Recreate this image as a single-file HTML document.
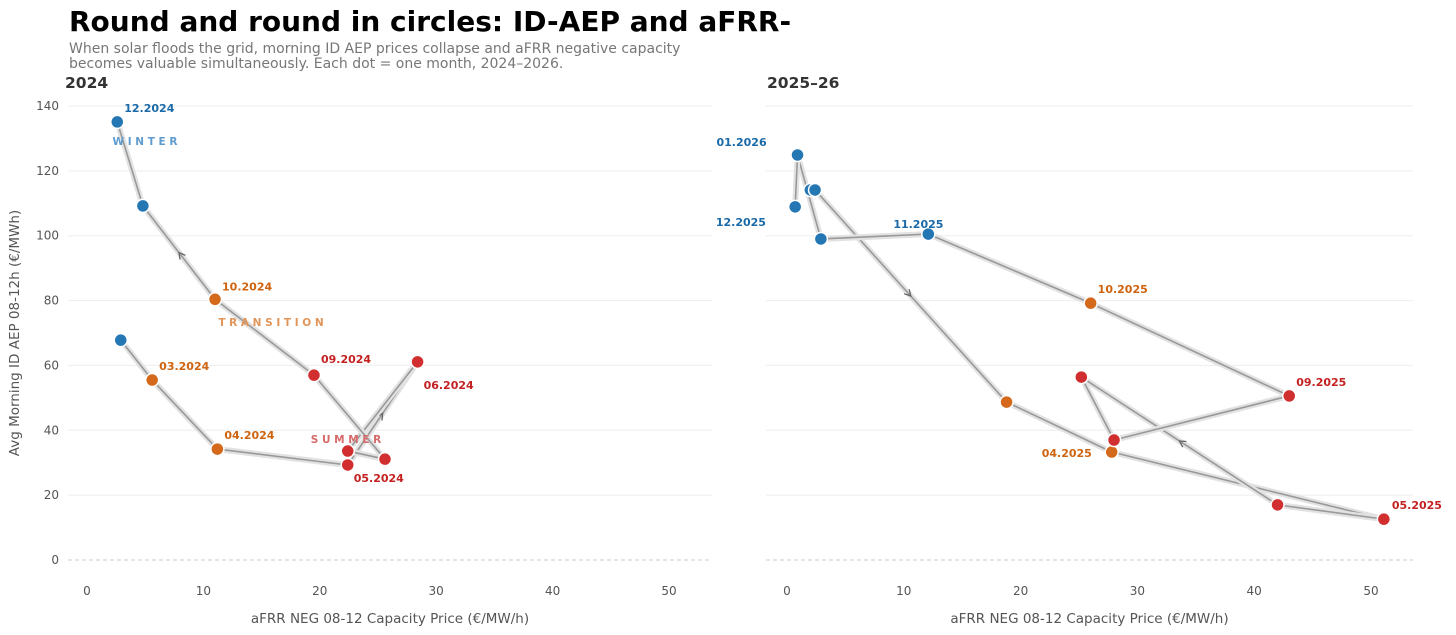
<!DOCTYPE html>
<html><head><meta charset="utf-8">
<style>
body{margin:0;background:#fff;font-family:"DejaVu Sans","Liberation Sans",sans-serif;}
#wrap{position:relative;width:1456px;height:635px;overflow:hidden;}
</style></head>
<body>
<div id="wrap">
<svg id="svg" width="1456" height="635" xmlns="http://www.w3.org/2000/svg" font-family="DejaVu Sans, Liberation Sans, sans-serif">
<text x="69" y="31" font-size="28" font-weight="bold" fill="#000">Round and round in circles: ID-AEP and aFRR-</text>
<text x="69" y="53" font-size="14" fill="#777">When solar floods the grid, morning ID AEP prices collapse and aFRR negative capacity</text>
<text x="69" y="68" font-size="14" fill="#777">becomes valuable simultaneously. Each dot = one month, 2024–2026.</text>
</svg>
</div>
<script>
const ticksX=[0,10,20,30,40,50];
const ticksY=[0,20,40,60,80,100,120,140];
const labels2024=["01.2024","03.2024","04.2024","05.2024","06.2024","07.2024","08.2024","09.2024","10.2024","11.2024","12.2024"];
const x2024=[2.9,5.6,11.2,22.4,28.4,22.4,25.6,19.5,11.0,4.8,2.6];
const y2024=[67.8,55.5,34.2,29.3,61.1,33.6,31.1,57.0,80.4,109.2,135.1];
const season2024=["w","t","t","s","s","s","s","s","t","w","w"];
const shown2024=[false,true,true,true,true,false,false,true,true,false,true];
const labels2025=["01.2025","02.2025","03.2025","04.2025","05.2025","06.2025","07.2025","08.2025","09.2025","10.2025","11.2025","12.2025","01.2026","02.2026"];
const x2025=[2.0,2.4,18.8,27.8,51.1,42.0,25.2,28.0,43.0,26.0,12.1,2.9,0.9,0.7];
const y2025=[114.1,114.1,48.7,33.3,12.6,17.0,56.4,37.0,50.6,79.2,100.5,99.0,124.9,108.9];
const season2025=["w","w","t","t","s","s","s","s","s","t","w","w","w","w"];
const shown2025=[false,false,false,true,true,false,false,false,true,true,true,true,true,false];

const NS="http://www.w3.org/2000/svg";
const svg=document.getElementById('svg');
const COL={w:"#2477b3",t:"#d4691c",s:"#d12f2f"};
const LCOL={w:"#1a6aa8",t:"#cf6410",s:"#c42222"};
function el(tag,attrs,parent){const e=document.createElementNS(NS,tag);for(const k in attrs)e.setAttribute(k,attrs[k]);(parent||svg).appendChild(e);return e;}

const panels=[
 {x0:87,x50:669,left:68,right:712,title:"2024",tx:65,xs:x2024,ys:y2024,lab:labels2024,sea:season2024,shown:shown2024,arrows:[3,8],
  offs:{"03.2024":[7,-10],"04.2024":[7,-10],"05.2024":[6,17],"06.2024":[6,27],"09.2024":[7,-12],"10.2024":[7,-9],"12.2024":[7,-10]},name:"panel-2024"},
 {x0:787,x50:1371,left:766,right:1413,title:"2025–26",tx:767,xs:x2025,ys:y2025,lab:labels2025,sea:season2025,shown:shown2025,arrows:[1,5],
  offs:{"04.2025":[-70,5],"05.2025":[8,-10],"09.2025":[7,-10],"10.2025":[7,-10],"11.2025":[-35,-6],"01.2026":[-81,-9],"12.2025":[-105,-13]},name:"panel-2025-26"}
];
const yPx=v=>560-v*(560-106)/140;

panels.forEach(p=>{
 const xPx=v=>p.x0+v*(p.x50-p.x0)/50;
 const g=el('g',{});
 
 
 ticksY.forEach(t=>{
  const ln=el('line',{x1:p.left,x2:p.right,y1:yPx(t),y2:yPx(t),stroke:t===0?"#ccc":"#eee","stroke-width":1,"stroke-dasharray":t===0?"4,3":"none"},g);
  
  
  if(p.left<100){const tx=el('text',{x:59,y:yPx(t)+4,"text-anchor":"end","font-size":12,fill:"#555"},g);tx.textContent=t;
   
   }
 });
 ticksX.forEach(t=>{const tx=el('text',{x:xPx(t),y:595,"text-anchor":"middle","font-size":12,fill:"#555"},g);tx.textContent=t;
  
  });
 const at=el('text',{x:(p.left+p.right)/2,y:623,"text-anchor":"middle","font-size":13.5,fill:"#555"},g);at.textContent="aFRR NEG 08-12 Capacity Price (€/MW/h)";
 
 
 const pt=el('text',{x:p.tx,y:88,"font-size":15.5,"font-weight":"bold",fill:"#333"},g);pt.textContent=p.title;
 
 
 for(let i=0;i<p.xs.length-1;i++){
  const a=[xPx(p.xs[i]),yPx(p.ys[i])],b=[xPx(p.xs[i+1]),yPx(p.ys[i+1])];
  const h=el('line',{x1:a[0],y1:a[1],x2:b[0],y2:b[1],stroke:"#e2e2e2","stroke-width":6,"stroke-linecap":"round"},g);
  
  
  const l=el('line',{x1:a[0],y1:a[1],x2:b[0],y2:b[1],stroke:"#999","stroke-width":1.6},g);
  
  
  if(p.arrows.includes(i)){
   const mx=(a[0]+b[0])/2,my=(a[1]+b[1])/2,ang=Math.atan2(b[1]-a[1],b[0]-a[0]);
   const s=7,p1=[mx-s*Math.cos(ang-0.5),my-s*Math.sin(ang-0.5)],p2=[mx-s*Math.cos(ang+0.5),my-s*Math.sin(ang+0.5)];
   const ar=el('polyline',{points:`${p1} ${mx},${my} ${p2}`,fill:"none",stroke:"#666","stroke-width":1.3},g);
   
   
  }
 }
 for(let i=0;i<p.xs.length;i++){
  const c=el('circle',{cx:xPx(p.xs[i]),cy:yPx(p.ys[i]),r:6.5,fill:COL[p.sea[i]],stroke:"#fff","stroke-width":1.5},g);
  
  
  if(p.shown[i]){
   const o=p.offs[p.lab[i]]||[7,-10];
   const t=el('text',{x:xPx(p.xs[i])+o[0],y:yPx(p.ys[i])+o[1],"font-size":11,"font-weight":"bold",fill:LCOL[p.sea[i]]},g);
   t.textContent=p.lab[i];
   
   
  }
 }
});
const yt=el('text',{x:19,y:333,"text-anchor":"middle","font-size":13.5,fill:"#555",transform:"rotate(-90 19 333)"});
yt.textContent="Avg Morning ID AEP 08-12h (€/MWh)";


[["W I N T E R",145,145,"#5e9ccf","season-winter"],["T R A N S I T I O N",271,326,"#e0955a","season-transition"],["S U M M E R",346,443,"#d66a6a","season-summer"]].forEach(a=>{
 const t=el('text',{x:a[1],y:a[2],"text-anchor":"middle","font-size":10.5,"font-weight":"bold",fill:a[3]});
 t.textContent=a[0];
 
 
});
</script>
</body></html>
